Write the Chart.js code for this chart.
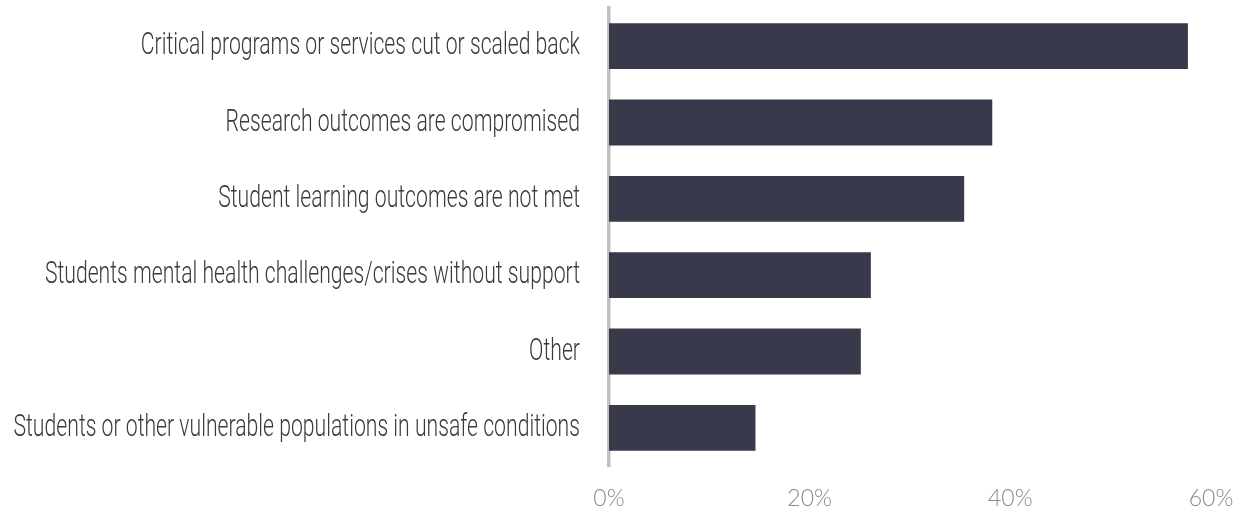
<!DOCTYPE html>
<html>
<head>
<meta charset="utf-8">
<script src="https://cdn.jsdelivr.net/npm/chart.js@4.4.1/dist/chart.umd.min.js"></script>
<style>
  html, body { margin: 0; padding: 0; background: #fff; }
  #wrap { width: 1244px; height: 514px; }
</style>
</head>
<body>
<div id="wrap"><canvas id="chart"></canvas></div>
<script>
  const categories = [
    "Critical programs or services cut or scaled back",
    "Research outcomes are compromised",
    "Student learning outcomes are not met",
    "Students mental health challenges/crises without support",
    "Other",
    "Students or other vulnerable populations in unsafe conditions"
  ];
  const shares = [57.7, 38.2, 35.4, 26.1, 25.1, 14.6];
  const xTicks = [0, 20, 40, 60];

  // category labels are a narrow condensed face in the original, so squeeze them
  const squeezeLabels = {
    id: "squeezeLabels",
    afterDraw(chart) {
      const y = chart.scales.y;
      const ctx = chart.ctx;
      ctx.save();
      ctx.font = "300 32px Roboto";
      ctx.fillStyle = "#3a3a3a";
      ctx.textAlign = "right";
      ctx.textBaseline = "middle";
      categories.forEach((label, i) => {
        ctx.save();
        ctx.translate(y.right - 29, y.getPixelForTick(i));
        ctx.scale(0.662, 1);
        ctx.fillText(label, 0, 0);
        ctx.restore();
      });
      ctx.restore();
    }
  };

  new Chart(document.getElementById("chart"), {
    type: "bar",
    data: {
      labels: categories,
      datasets: [{
        data: shares,
        backgroundColor: "#383a4c",
        borderWidth: 0,
        categoryPercentage: 0.6,
        barPercentage: 1
      }]
    },
    options: {
      indexAxis: "y",
      responsive: true,
      maintainAspectRatio: false,
      animation: false,
      layout: { padding: { top: 8, right: 33, bottom: 0, left: 0 } },
      plugins: {
        legend: { display: false },
        tooltip: { enabled: false }
      },
      scales: {
        x: {
          min: 0,
          max: 60,
          afterBuildTicks: s => { s.ticks = xTicks.map(v => ({ value: v })); },
          afterFit: s => {
            s.height = 48;
            s.paddingLeft = 0;
            s.paddingRight = 0;
          },
          grid: { display: false, drawTicks: false },
          border: { display: false },
          ticks: {
            padding: 19,
            color: "#8a8a8a",
            font: { family: "Lato", weight: "300", size: 23 },
            callback: v => v + "%"
          }
        },
        y: {
          z: 1,
          afterFit: s => { s.width = 609; },
          grid: { display: false, drawTicks: false },
          border: { display: true, color: "#c0c0c0", width: 3.5 },
          ticks: { display: false }
        }
      }
    },
    plugins: [squeezeLabels]
  });
</script>
</body>
</html>
